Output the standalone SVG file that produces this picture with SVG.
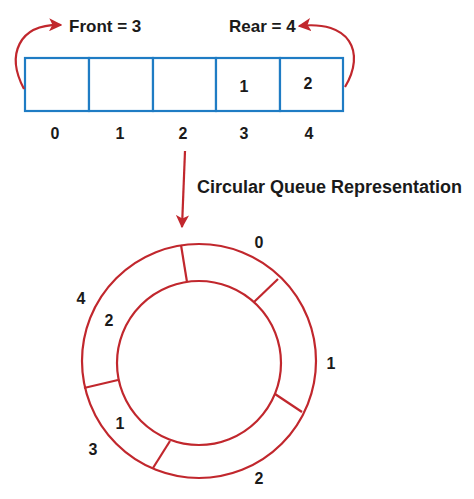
<svg xmlns="http://www.w3.org/2000/svg" width="474" height="499" viewBox="0 0 474 499">
<defs>
<marker id="ah" viewBox="0 0 10 10" refX="9" refY="5" markerWidth="6" markerHeight="6" orient="auto" markerUnits="strokeWidth">
<path d="M0,0 L10,5 L0,10 L2.5,5 Z" fill="#c1272d"/>
</marker>
</defs>
<style>
.t{font-family:"Liberation Sans",Arial,sans-serif;font-weight:bold;fill:#1a1a1a}
.cell{fill:#fff;stroke:#1f7cc4;stroke-width:2.2}
.red{fill:none;stroke:#c1272d;stroke-width:2.2}
.arr{fill:none;stroke:#c1272d;stroke-width:2.2;marker-end:url(#ah)}
</style>
<rect width="474" height="499" fill="#fff"/>
<g id="array">
<rect class="cell" x="25" y="58" width="64" height="53"/>
<rect class="cell" x="89" y="58" width="64" height="53"/>
<rect class="cell" x="153" y="58" width="63" height="53"/>
<rect class="cell" x="216" y="58" width="64" height="53"/>
<rect class="cell" x="280" y="58" width="63" height="53"/>
<text class="t" x="244" y="92" font-size="16" text-anchor="middle">1</text>
<text class="t" x="308" y="89" font-size="16" text-anchor="middle">2</text>
</g>
<g id="indices" class="t" font-size="16" text-anchor="middle">
<text x="55" y="139">0</text>
<text x="120" y="139">1</text>
<text x="183" y="139">2</text>
<text x="244" y="139">3</text>
<text x="309" y="139">4</text>
</g>
<g id="front"><text class="t" x="69" y="32" font-size="17">Front = 3</text></g>
<g id="rear"><text class="t" x="229" y="32" font-size="17">Rear = 4</text></g>
<g id="caption"><text class="t" x="197" y="193" font-size="18">Circular Queue Representation</text></g>
<g id="connectors">
<path class="arr" d="M24,89 C6,55 18,24 61,25"/>
<path class="arr" d="M345,87 C366,52 350,20 299,26"/>
<path class="arr" d="M185,151 L182,227"/>
</g>
<g id="circle">
<circle class="red" cx="199" cy="361" r="117"/>
<circle class="red" cx="199" cy="363" r="82"/>
<line class="red" x1="181" y1="245" x2="187" y2="282"/>
<line class="red" x1="278" y1="279" x2="254" y2="302"/>
<line class="red" x1="302" y1="412" x2="275" y2="394"/>
<line class="red" x1="153" y1="468" x2="170" y2="441"/>
<line class="red" x1="84" y1="388" x2="118" y2="380"/>
</g>
<g id="circle-labels" class="t" font-size="16" text-anchor="middle">
<text x="259" y="248">0</text>
<text x="331" y="369">1</text>
<text x="259" y="484">2</text>
<text x="93" y="455">3</text>
<text x="81" y="304">4</text>
<text x="109" y="326">2</text>
<text x="120" y="429">1</text>
</g>
</svg>
